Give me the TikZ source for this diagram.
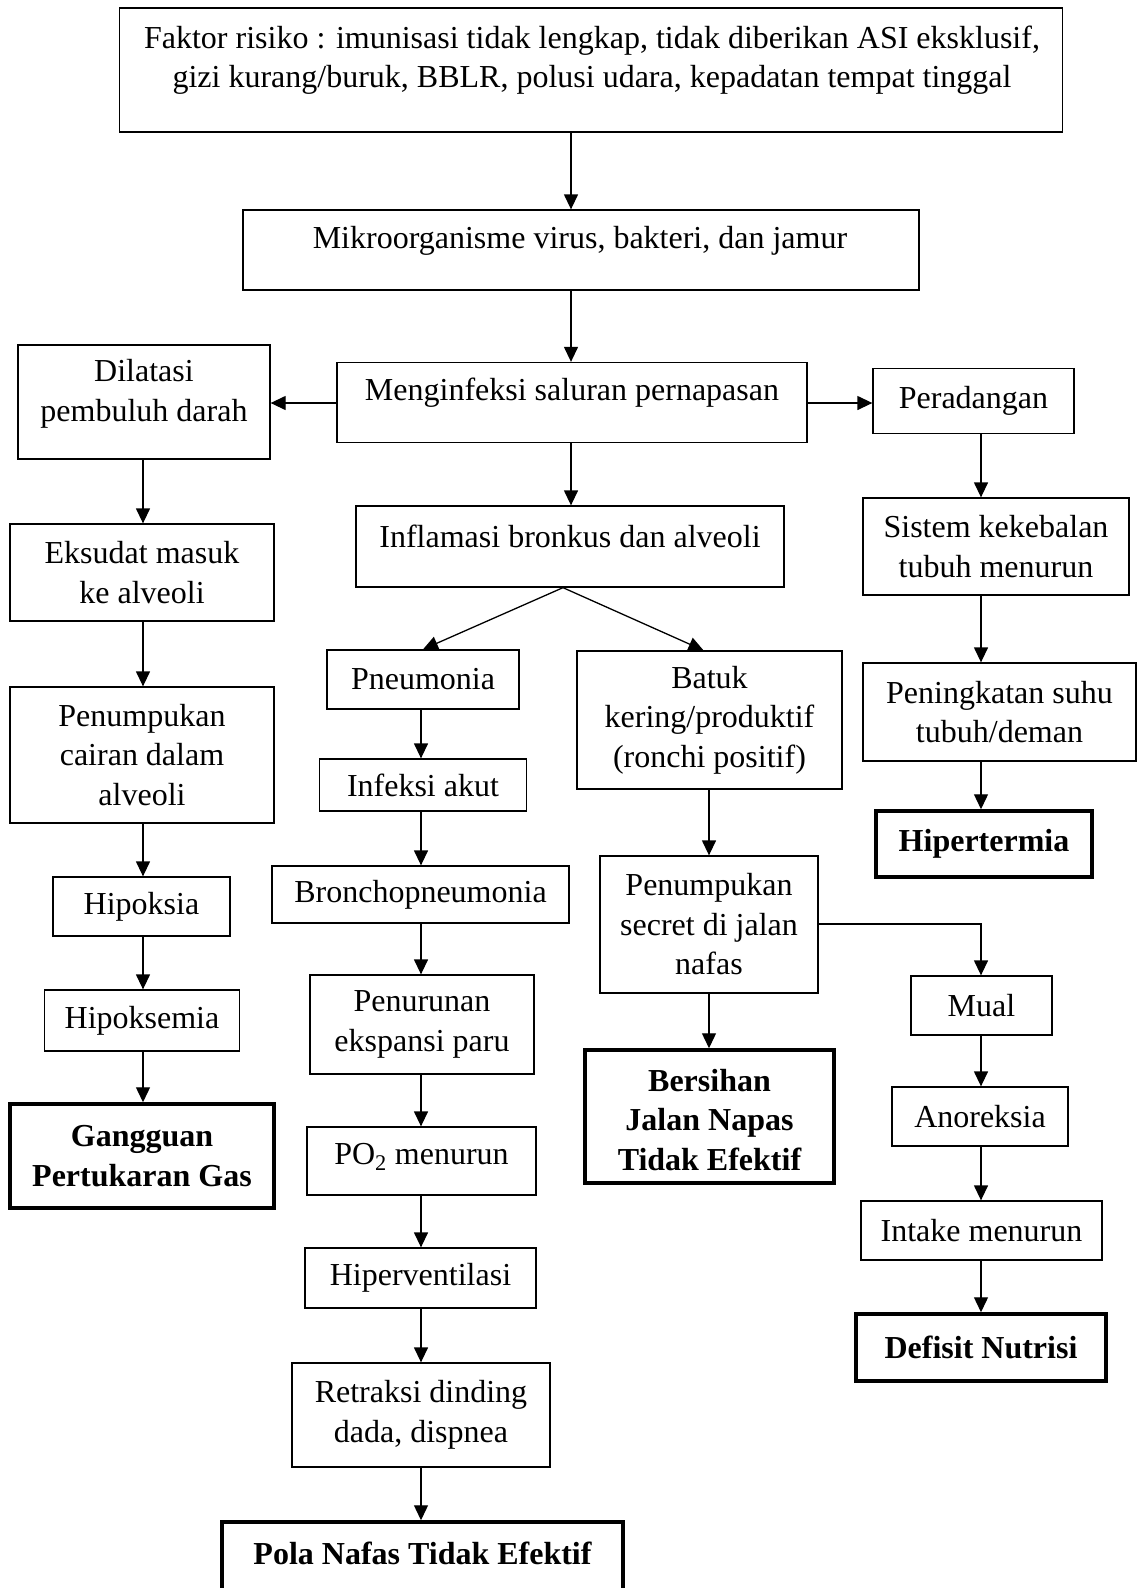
\documentclass[tikz,border=0pt]{standalone}
\usepackage{fontspec}
\setmainfont{Liberation Serif}
\usetikzlibrary{arrows.meta}
\begin{document}
\begin{tikzpicture}[x=1pt,y=-1pt,
 box/.style={draw, line width=1.3pt, inner sep=0pt, align=center, font=\fontsize{32}{39.5}\selectfont},
 bbox/.style={box, line width=3.5pt, font=\fontsize{32}{39.5}\selectfont\bfseries},
 txt/.style={inner sep=0pt, align=center, font=\fontsize{32}{39.5}\selectfont},
 btxt/.style={txt, font=\fontsize{32}{39.5}\selectfont\bfseries},
 arr/.style={line width=1.3pt, -{Triangle[length=15pt,width=14pt]}}]
\useasboundingbox (0,0) rectangle (1137,1588);
\fill[white] (0,0) rectangle (1137,1588);
% column coordinates
\coordinate (cx1) at (571,0);
\coordinate (cl) at (143,0);
\coordinate (cr) at (981,0);
\coordinate (cm) at (421,0);
\coordinate (cs) at (709,0);
\coordinate (fk) at (563,0);
\coordinate (ch) at (0,403);
\coordinate (cy2) at (0,924);
% boxes
\node[box, minimum width=943, minimum height=124] (top) at (591,70) {};
\node[txt] (toptxt) at (592,60) {Faktor risiko : imunisasi tidak lengkap, tidak diberikan ASI eksklusif,\\ gizi kurang/buruk, BBLR, polusi udara, kepadatan tempat tinggal};
\node[box, minimum width=676, minimum height=80] (mikro) at (581,250) {};
\node[txt] (mikrotxt) at (580,241) {Mikroorganisme virus, bakteri, dan jamur};
\node[box, minimum width=470, minimum height=80] (meng) at (572,402.5) {};
\node[txt] (mengtxt) at (572,393) {Menginfeksi saluran pernapasan};
\node[box, minimum width=252, minimum height=114] (dil) at (144,402) {};
\node[txt] (diltxt) at (144,394) {Dilatasi\\ pembuluh darah};
\node[box, minimum width=201, minimum height=65] (per) at (973.5,401) {Peradangan};
\node[box, minimum width=428, minimum height=81] (infl) at (570,546.5) {};
\node[txt] (infltxt) at (570,536) {Inflamasi bronkus dan alveoli};
\node[box, minimum width=264, minimum height=97] (eks) at (142,572.5) {Eksudat masuk\\ ke alveoli};
\node[box, minimum width=266, minimum height=97] (sis) at (996,546.5) {Sistem kekebalan\\ tubuh menurun};
\node[box, minimum width=192, minimum height=59] (pneu) at (423,679.5) {Pneumonia};
\node[box, minimum width=265, minimum height=138] (batuk) at (709.5,720) {Batuk\\ kering/produktif\\ (ronchi positif)};
\node[box, minimum width=264, minimum height=136] (cair) at (142,755) {Penumpukan\\ cairan dalam\\ alveoli};
\node[box, minimum width=273, minimum height=98] (ning) at (999.5,712) {Peningkatan suhu\\ tubuh/deman};
\node[box, minimum width=207, minimum height=52] (akut) at (423,785) {Infeksi akut};
\node[bbox, minimum width=216, minimum height=66] (hipert) at (984,844) {Hipertermia};
\node[box, minimum width=297, minimum height=57] (broncho) at (420.5,894.5) {Bronchopneumonia};
\node[box, minimum width=177, minimum height=59] (hipoksia) at (141.5,906.5) {Hipoksia};
\node[box, minimum width=218, minimum height=137] (secret) at (709,924.5) {Penumpukan\\ secret di jalan\\ nafas};
\node[box, minimum width=224, minimum height=99] (eksp) at (422,1024.5) {Penurunan\\ ekspansi paru};
\node[box, minimum width=141, minimum height=59] (mual) at (981.5,1005.5) {Mual};
\node[box, minimum width=195, minimum height=61] (hipoksemia) at (142,1020.5) {Hipoksemia};
\node[bbox, minimum width=249, minimum height=133] (bersihan) at (709.5,1116.5) {};
\node[btxt] (bersihantxt) at (709.5,1120) {Bersihan\\ Jalan Napas\\ Tidak Efektif};
\node[box, minimum width=176, minimum height=59] (anor) at (980,1116.5) {Anoreksia};
\node[bbox, minimum width=264, minimum height=104] (gang) at (142,1156) {Gangguan\\ Pertukaran Gas};
\node[box, minimum width=229, minimum height=68] (po2) at (421.5,1161) {};
\node[txt] (po2txt) at (421.5,1157) {PO\textsubscript{2} menurun};
\node[box, minimum width=241, minimum height=59] (intake) at (981.5,1230.5) {Intake menurun};
\node[box, minimum width=231, minimum height=60] (hiperv) at (420.5,1278) {Hiperventilasi};
\node[bbox, minimum width=250, minimum height=67] (defisit) at (981,1347.5) {Defisit Nutrisi};
\node[box, minimum width=258, minimum height=104] (retr) at (421,1415) {Retraksi dinding\\ dada, dispnea};
\node[bbox, minimum width=401, minimum height=98] (pola) at (422.5,1571) {};
\node[btxt] (polatxt) at (422.5,1553) {Pola Nafas Tidak Efektif};
% connectors
\draw[arr] (cx1 |- top.south) -- (cx1 |- mikro.north);
\draw[arr] (cx1 |- mikro.south) -- (cx1 |- meng.north);
\draw[arr] (cx1 |- meng.south) -- (cx1 |- infl.north);
\draw[arr] (meng.west |- ch) -- (dil.east |- ch);
\draw[arr] (meng.east |- ch) -- (per.west |- ch);
\draw[arr] (cl |- dil.south) -- (cl |- eks.north);
\draw[arr] (cl |- eks.south) -- (cl |- cair.north);
\draw[arr] (cl |- cair.south) -- (cl |- hipoksia.north);
\draw[arr] (cl |- hipoksia.south) -- (cl |- hipoksemia.north);
\draw[arr] (cl |- hipoksemia.south) -- (cl |- gang.north);
\draw[arr] (cr |- per.south) -- (cr |- sis.north);
\draw[arr] (cr |- sis.south) -- (cr |- ning.north);
\draw[arr] (cr |- ning.south) -- (cr |- hipert.north);
\draw[arr] (fk |- infl.south) -- (pneu.north);
\draw[arr] (fk |- infl.south) -- ([xshift=-6pt]batuk.north);
\draw[arr] (cm |- pneu.south) -- (cm |- akut.north);
\draw[arr] (cm |- akut.south) -- (cm |- broncho.north);
\draw[arr] (cm |- broncho.south) -- (cm |- eksp.north);
\draw[arr] (cm |- eksp.south) -- (cm |- po2.north);
\draw[arr] (cm |- po2.south) -- (cm |- hiperv.north);
\draw[arr] (cm |- hiperv.south) -- (cm |- retr.north);
\draw[arr] (cm |- retr.south) -- (cm |- pola.north);
\draw[arr] (cs |- batuk.south) -- (cs |- secret.north);
\draw[arr] (cs |- secret.south) -- (cs |- bersihan.north);
\draw[arr] (secret.east |- cy2) -| (cr |- mual.north);
\draw[arr] (cr |- mual.south) -- (cr |- anor.north);
\draw[arr] (cr |- anor.south) -- (cr |- intake.north);
\draw[arr] (cr |- intake.south) -- (cr |- defisit.north);
\end{tikzpicture}
\end{document}
